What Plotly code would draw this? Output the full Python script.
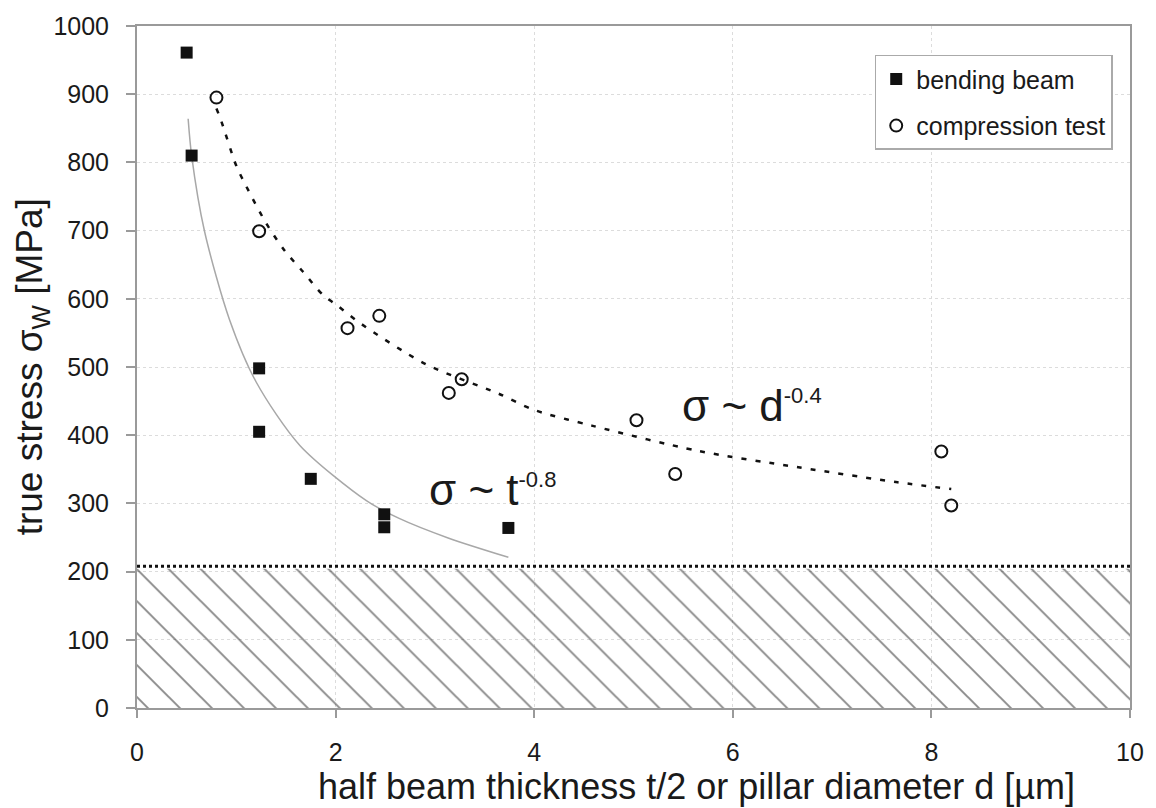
import plotly.graph_objects as go

# ---- measured flow stresses -------------------------------------------
bend_t = [0.50, 0.55, 1.23, 1.23, 1.75, 2.49, 2.49, 3.74]
bend_stress = [961, 810, 498, 405, 336, 284, 265, 264]

comp_d = [0.80, 1.23, 2.12, 2.44, 3.14, 3.27, 5.03, 5.42, 8.10, 8.20]
comp_stress = [895, 699, 557, 575, 462, 482, 422, 343, 376, 297]

# ---- power-law trend lines --------------------------------------------
bend_fit_t = [0.515, 0.55, 0.68, 0.93, 1.2, 1.64, 2.31, 2.64, 3.14, 3.74]
bend_fit_stress = [864, 810, 699, 570, 478, 385, 304, 278, 249, 221]

comp_fit_d = [0.80, 0.85, 1.0, 1.1, 1.30, 1.49, 1.67, 1.87, 2.0, 2.26,
              2.91, 3.64, 4.0, 4.58, 5.65, 6.66, 7.66, 8.2]
comp_fit_stress = [879, 860, 795, 765, 711, 670, 640, 606, 592, 563,
                   504, 461, 437, 414, 377, 353, 331, 321]

# ---- bulk flow stress level and shaded region ---------------------------
bulk_stress = 208
hatch_top = 204
x_range = [0, 10]
y_range = [0, 1000]

FONT = "Arial, Liberation Sans, sans-serif"
AXIS_GREY = "#9a9a9a"
SUP = "<sup><span style='font-size:22px'>{}</span></sup>"

fig = go.Figure()

# hatched region below the bulk stress level
fig.add_trace(go.Scatter(
    x=x_range, y=[hatch_top, hatch_top], mode="lines",
    line=dict(width=0), fill="tozeroy", fillcolor="rgba(0,0,0,0)",
    fillpattern=dict(shape="\\", size=22.6, solidity=0.085,
                     fgcolor="#141414", bgcolor="rgba(0,0,0,0)"),
    showlegend=False, hoverinfo="skip"))

# bulk stress line
fig.add_trace(go.Scatter(
    x=x_range, y=[bulk_stress, bulk_stress], mode="lines",
    line=dict(color="#111111", width=3, dash="3px,3px"),
    showlegend=False, hoverinfo="skip"))

# trend curves
fig.add_trace(go.Scatter(
    x=bend_fit_t, y=bend_fit_stress, mode="lines",
    line=dict(color="#a8a8a8", width=1.5, shape="spline", smoothing=0.8),
    showlegend=False, hoverinfo="skip"))
fig.add_trace(go.Scatter(
    x=comp_fit_d, y=comp_fit_stress, mode="lines",
    line=dict(color="#111111", width=2.5, dash="5px,9px",
              shape="spline", smoothing=0.8),
    showlegend=False, hoverinfo="skip"))

# measured points
fig.add_trace(go.Scatter(
    x=bend_t, y=bend_stress, mode="markers", name="bending beam",
    legendgroup="bend",
    marker=dict(symbol="square", size=12, color="#111111",
                line=dict(width=0))))
fig.add_trace(go.Scatter(
    x=comp_d, y=comp_stress, mode="markers", name="compression test",
    legendgroup="comp",
    marker=dict(symbol="circle-open", size=12, color="#111111",
                line=dict(width=2, color="#111111"))))

axis_common = dict(
    showline=True, linecolor=AXIS_GREY, linewidth=2, mirror=True,
    ticks="outside", tickcolor=AXIS_GREY, tickwidth=1.5,
    showgrid=True, gridcolor="#dcdcdc", griddash="dot", gridwidth=1,
    zeroline=False, tickfont=dict(family=FONT, size=25, color="#1a1a1a"),
)

fig.update_layout(
    width=1156, height=808,
    margin=dict(l=137, r=23, t=23, b=100),
    paper_bgcolor="white", plot_bgcolor="white",
    font=dict(family=FONT, color="#1a1a1a"),
    xaxis=dict(range=x_range, dtick=2, tick0=0, ticklen=8,
               ticklabelstandoff=13, **axis_common),
    yaxis=dict(range=y_range, dtick=100, tick0=0, ticklen=9,
               ticklabelstandoff=12, **axis_common),
    legend=dict(x=0.9826, y=0.9577, xanchor="right", yanchor="top",
                bgcolor="white", bordercolor="#aaaaaa", borderwidth=1.5,
                font=dict(family=FONT, size=25, color="#1a1a1a"),
                traceorder="grouped", tracegroupgap=11, itemwidth=30),
    annotations=[
        dict(text="half beam thickness t/2 or pillar diameter d [µm]",
             xref="paper", yref="paper", x=0.563, y=-0.1155,
             xanchor="center", yanchor="middle", showarrow=False,
             font=dict(family=FONT, size=36, color="#1a1a1a")),
        dict(text="true stress σ<sub>W</sub> [MPa]",
             xref="paper", yref="paper", x=-0.1054, y=0.5,
             xanchor="center", yanchor="middle", textangle=-90,
             showarrow=False,
             font=dict(family=FONT, size=37, color="#1a1a1a")),
        dict(text="σ ~ t" + SUP.format("-0.8"), x=2.92, y=320,
             xanchor="left", yanchor="middle", showarrow=False,
             font=dict(family=FONT, size=44, color="#1a1a1a")),
        dict(text="σ ~ d" + SUP.format("-0.4"), x=5.47, y=443,
             xanchor="left", yanchor="middle", showarrow=False,
             font=dict(family=FONT, size=44, color="#1a1a1a")),
    ],
)

fig.write_html("out.html")
